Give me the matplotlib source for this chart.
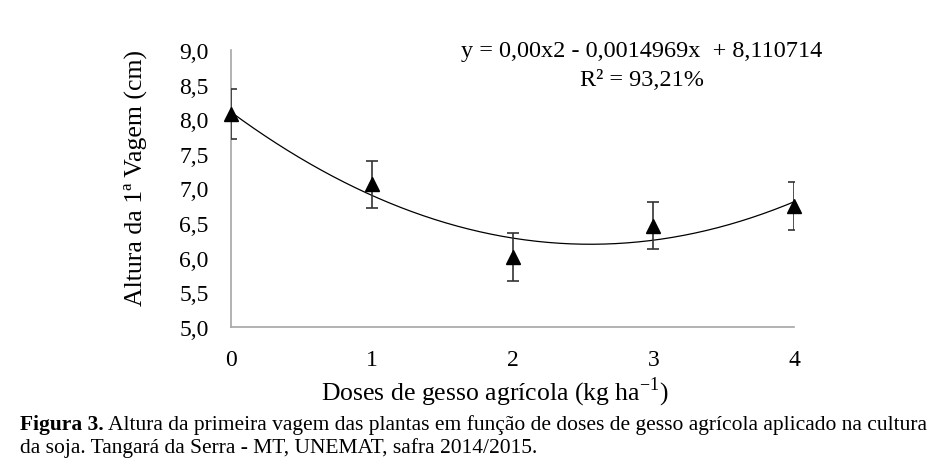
import matplotlib
matplotlib.use("Agg")
import matplotlib.pyplot as plt
import numpy as np

plt.rcParams['font.family'] = ['Liberation Serif', 'DejaVu Serif']
plt.rcParams['mathtext.fontset'] = 'custom'
plt.rcParams['mathtext.rm'] = 'Liberation Serif'

# data
doses = [0, 1, 2, 3, 4]
altura = [8.07, 7.06, 6.01, 6.46, 6.75]
erro = [0.36, 0.34, 0.34, 0.34, 0.35]
y_ticks = [5.0, 5.5, 6.0, 6.5, 7.0, 7.5, 8.0, 8.5, 9.0]
y_tick_labels = ['5,0', '5,5', '6,0', '6,5', '7,0', '7,5', '8,0', '8,5', '9,0']

fig = plt.figure(figsize=(9.49, 4.77), dpi=100)
ax = fig.add_axes([0.2434, 0.3124, 0.5933, 0.5807])

# quadratic trend line (as in the spreadsheet)
coef = np.polyfit(doses, altura, 2)
xs = np.linspace(0, 4, 200)
ax.plot(xs, np.polyval(coef, xs), color='black', lw=0.9, zorder=2)

ax.errorbar(doses, altura, yerr=erro, fmt='none', ecolor='#333333',
            elinewidth=1.2, capsize=4, capthick=1.2, zorder=3)
ax.plot(doses, altura, linestyle='None', marker='^', markersize=10,
        color='black', zorder=4, clip_on=False)

ax.set_xlim(0, 4)
ax.set_ylim(5, 9)
ax.set_xticks(doses)
ax.set_xticklabels([str(d) for d in doses], fontsize=17)
ax.set_yticks(y_ticks)
ax.set_yticklabels(y_tick_labels, fontsize=17)
ax.tick_params(axis='both', length=0)
ax.tick_params(axis='y', pad=16)
ax.tick_params(axis='x', pad=16)

for side in ['top', 'right']:
    ax.spines[side].set_visible(False)
for side in ['left', 'bottom']:
    ax.spines[side].set_color('#a6a6a6')
    ax.spines[side].set_linewidth(1.2)

ax.set_xlabel('Doses de gesso agrícola (kg ha$^{\\mathrm{-1}}$)', fontsize=18.5)
ax.xaxis.set_label_coords(0.469, -0.17)
ax.set_ylabel('Altura da 1ª Vagem (cm)', fontsize=18.5)
ax.yaxis.set_label_coords(-0.150, 0.54)

fig.text(642 / 949, 1 - 52 / 477, 'y = 0,00x2 - 0,0014969x  + 8,110714',
         ha='center', va='center', fontsize=17.5)
fig.text(642 / 949, 1 - 81 / 477, 'R² = 93,21%',
         ha='center', va='center', fontsize=17.5)

t1 = fig.text(20 / 949, 1 - 430 / 477, 'Figura 3.', ha='left', va='baseline',
              fontsize=15.5, fontweight='bold')
fig.canvas.draw()
bb = t1.get_window_extent()
fig.text((bb.x1 + 4) / 949, 1 - 430 / 477,
         'Altura da primeira vagem das plantas em função de doses de gesso agrícola aplicado na cultura',
         ha='left', va='baseline', fontsize=15.5)
fig.text(20 / 949, 1 - 453 / 477,
         'da soja. Tangará da Serra - MT, UNEMAT, safra 2014/2015.',
         ha='left', va='baseline', fontsize=15.5)

fig.savefig('out.png', dpi=100)
